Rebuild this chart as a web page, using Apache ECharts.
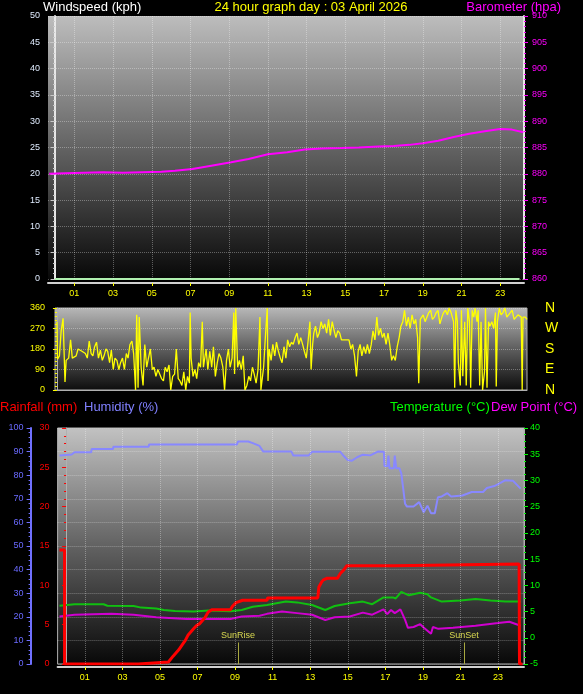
<!DOCTYPE html>
<html><head><meta charset="utf-8">
<script src="https://cdn.jsdelivr.net/npm/echarts@6/dist/echarts.min.js"></script>
<style>html,body{margin:0;padding:0;background:#000}#c{width:583px;height:694px}</style>
</head><body><div id="c"></div><script>
// ---------- data ----------
const hourTicks = [1,3,5,7,9,11,13,15,17,19,21,23];
const dirLetters = ['N','E','S','W','N'];

const windHours = [0,1,2,3,4,5,6,7,8,9,10,11,12,13,14,15,16,17,18,19,20,21,22,23,24];
const windSpeed = [0,0,0,0,0,0,0,0,0,0,0,0,0,0,0,0,0,0,0,0,0,0,0,0,0];

const baroHours = [-0.3,0.5,1.5,2.5,3.5,4.5,5.5,6.2,7.1,8.0,9.1,10.0,11.0,12.0,12.9,13.8,14.8,15.7,16.7,17.5,18.3,19.0,19.8,20.6,21.4,22.2,23.0,23.6,24.2];
const baroValues = [880.0,880.1,880.2,880.3,880.2,880.3,880.4,880.6,880.9,881.5,882.2,882.8,883.7,884.1,884.6,884.8,884.9,885.0,885.2,885.3,885.5,885.8,886.3,887.0,887.6,888.1,888.5,888.4,887.9];

const windDir = [[0.0,300],[0.03,135],[0.13,150],[0.22,260],[0.32,315],[0.42,35],[0.48,130],[0.61,140],[0.71,220],[0.80,140],[0.90,135],[1.0,150],[1.10,180],[1.3,170],[1.48,160],[1.58,140],[1.68,215],[1.78,160],[1.87,150],[1.96,190],[2.06,210],[2.16,140],[2.26,175],[2.36,130],[2.45,150],[2.55,180],[2.64,170],[2.74,120],[2.83,175],[2.93,90],[3.02,140],[3.12,130],[3.22,90],[3.31,120],[3.41,140],[3.51,90],[3.61,160],[3.70,140],[3.80,200],[3.90,215],[3.99,160],[4.09,0],[4.15,330],[4.22,10],[4.28,320],[4.38,100],[4.48,20],[4.57,200],[4.67,100],[4.76,140],[4.86,180],[4.96,90],[5.05,100],[5.15,60],[5.25,90],[5.34,90],[5.44,50],[5.54,40],[5.63,100],[5.73,80],[5.83,110],[5.92,0],[6.02,60],[6.12,70],[6.21,180],[6.31,50],[6.40,40],[6.50,20],[6.60,80],[6.70,0],[6.79,60],[6.89,30],[6.93,340],[6.98,140],[7.08,60],[7.18,90],[7.27,50],[7.37,120],[7.47,100],[7.56,300],[7.62,100],[7.76,180],[7.85,90],[7.95,170],[8.05,100],[8.14,190],[8.24,60],[8.34,120],[8.43,160],[8.53,140],[8.63,100],[8.72,0],[8.82,130],[8.92,180],[9.01,100],[9.11,140],[9.20,340],[9.24,70],[9.30,360],[9.40,100],[9.49,130],[9.59,90],[9.69,150],[9.78,0],[9.88,20],[9.98,60],[10.07,40],[10.17,100],[10.26,70],[10.36,30],[10.46,90],[10.56,320],[10.61,0],[10.75,100],[10.84,230],[10.94,360],[10.98,40],[11.04,180],[11.14,130],[11.23,200],[11.33,150],[11.42,210],[11.52,170],[11.62,140],[11.71,120],[11.81,190],[11.91,140],[12.00,220],[12.10,190],[12.20,210],[12.29,200],[12.39,230],[12.49,250],[12.58,200],[12.68,230],[12.78,200],[12.87,170],[12.97,140],[13.07,220],[13.16,300],[13.22,90],[13.3,200],[13.36,250],[13.45,280],[13.55,230],[13.64,250],[13.74,300],[13.84,270],[13.93,290],[14.03,250],[14.13,310],[14.22,240],[14.32,300],[14.42,260],[14.51,230],[14.61,260],[14.71,250],[14.80,220],[14.9,225],[15.00,220],[15.1,215],[15.19,220],[15.29,180],[15.38,200],[15.48,150],[15.58,60],[15.67,170],[15.77,200],[15.86,150],[15.96,190],[16.06,160],[16.15,200],[16.25,160],[16.35,200],[16.44,260],[16.54,220],[16.64,320],[16.73,240],[16.83,270],[16.93,230],[17.02,250],[17.12,200],[17.22,250],[17.31,200],[17.41,130],[17.50,150],[17.60,130],[17.70,190],[17.80,230],[17.89,280],[17.99,300],[18.08,350],[18.18,280],[18.28,320],[18.37,270],[18.47,330],[18.57,290],[18.66,310],[18.76,230],[18.82,30],[18.90,310],[19.05,330],[19.15,300],[19.24,300],[19.34,340],[19.44,350],[19.53,310],[19.63,320],[19.73,340],[19.82,350],[19.92,290],[20.02,320],[20.11,340],[20.21,350],[20.31,330],[20.40,360],[20.50,340],[20.63,300],[20.69,10],[20.75,350],[20.83,300],[20.88,120],[20.98,20],[21.04,350],[21.11,60],[21.21,300],[21.29,20],[21.37,360],[21.46,300],[21.52,10],[21.60,350],[21.68,320],[21.75,360],[21.85,300],[21.91,350],[21.99,20],[22.06,300],[22.14,0],[22.24,80],[22.29,360],[22.37,10],[22.45,300],[22.52,280],[22.62,300],[22.72,270],[22.81,340],[22.85,15],[22.91,300],[23.01,360],[23.10,330],[23.2,340],[23.30,360],[23.4,320],[23.49,330],[23.58,340],[23.68,350],[23.78,310],[23.88,320],[23.98,330],[24.07,330],[24.15,320],[24.20,0],[24.24,320],[24.36,320],[24.45,310]];

const rainfall = [[-0.35,14.5],[-0.08,14.5],[-0.08,0],[3.85,0],[3.85,0.25],[5.45,0.25],[5.55,0.5],[5.7,1.0],[5.85,1.4],[6.0,1.8],[6.2,2.5],[6.35,3.0],[6.5,3.7],[6.65,4.1],[6.8,4.5],[6.95,4.9],[7.1,5.1],[7.25,5.5],[7.4,5.9],[7.57,6.6],[7.76,6.9],[8.75,6.9],[8.85,7.3],[9.05,7.8],[9.4,8.1],[10.7,8.1],[10.73,8.4],[13.4,8.4],[13.46,9.8],[13.6,10.4],[13.7,10.7],[13.9,10.9],[14.45,10.9],[14.6,11.5],[14.8,12.0],[14.95,12.5],[17.45,12.5],[17.46,12.7],[24.12,12.7],[24.14,0],[24.3,0]];

const humidity = [[-0.35,88.3],[0.0,88.6],[0.3,88.8],[0.45,89.7],[1.34,89.7],[1.36,91.1],[2.5,91.1],[2.52,92.1],[4.4,92.1],[4.42,93.0],[9.1,93.0],[9.15,94.3],[9.7,94.3],[9.94,93.6],[10.3,92.4],[10.5,90.0],[12.0,90.0],[12.1,88.3],[12.9,88.3],[13.1,89.9],[14.6,89.9],[14.8,88.0],[15.0,86.4],[15.2,86.1],[15.5,87.6],[15.8,88.7],[16.2,88.4],[16.6,90.0],[16.92,89.9],[16.95,83.9],[17.12,83.9],[17.16,88.3],[17.22,82.9],[17.45,82.9],[17.5,88.3],[17.58,82.9],[17.75,82.9],[17.85,80.7],[18.05,67.9],[18.15,66.7],[18.5,66.7],[18.8,68.6],[19.04,64.3],[19.24,67.1],[19.43,63.9],[19.63,63.9],[19.8,70.7],[20.0,71.0],[20.3,72.4],[20.5,71.0],[21.1,71.4],[21.6,72.9],[22.2,72.9],[22.4,74.6],[22.8,75.4],[23.4,77.9],[23.8,77.6],[24.2,74.3]];

const temperature = [[-0.35,6.1],[0.45,6.4],[2.0,6.4],[2.2,6.1],[3.6,6.06],[4.0,5.75],[4.8,5.6],[5.2,5.3],[5.8,5.1],[6.8,5.0],[7.6,5.2],[8.75,5.06],[9.35,5.3],[9.94,5.9],[10.7,6.25],[11.7,6.9],[12.3,6.75],[13.1,6.25],[13.8,5.3],[14.3,6.06],[15.1,6.6],[15.8,6.9],[16.3,6.4],[16.9,7.7],[17.4,7.7],[17.55,7.5],[17.85,8.75],[18.25,8.1],[18.85,8.6],[19.24,8.3],[19.43,7.7],[20.0,6.9],[21.0,7.1],[21.8,7.4],[22.6,7.1],[23.4,6.9],[24.2,6.9]];

const dewPoint = [[-0.35,4.06],[0.45,4.4],[2.4,4.56],[3.6,4.4],[4.8,3.9],[6.4,3.6],[8.75,3.6],[9.35,4.06],[10.3,4.2],[10.7,4.56],[11.5,5.0],[12.3,4.7],[13.1,4.4],[13.8,3.4],[14.3,3.9],[15.1,4.06],[15.8,4.8],[16.3,4.4],[16.9,5.4],[17.1,4.5],[17.3,5.3],[17.5,4.7],[17.8,5.4],[18.05,3.4],[18.2,1.9],[18.5,2.06],[18.85,2.6],[19.05,1.9],[19.43,0.75],[19.53,2.06],[19.82,1.7],[20.6,1.9],[21.8,2.3],[23.0,2.8],[23.6,3.06],[24.2,2.3]];

const sunRiseHour = 9.15, sunSetHour = 21.18;

// ---------- chart ----------
const FONT = '"Liberation Sans", Arial, sans-serif';
const chart = echarts.init(document.getElementById('c'));
const grad = (a,b,c) => new echarts.graphic.LinearGradient(0,0,0,1,[{offset:0,color:a},{offset:0.5,color:b},{offset:1,color:c}]);
const pad = v => (v<10?'0':'')+v;
const dotted = {color:'rgba(255,255,255,0.32)', type:'dotted', width:1};

function xAx(grid, min, max, labels, offset){
  return {type:'value', gridIndex:grid, min, max, offset,
    axisLine:{show:true, onZero:false, lineStyle:{color:'#d0d0d0', width:2}},
    axisTick:{show:labels, customValues:hourTicks, length:3, lineStyle:{color:'#ffff00'}},
    axisLabel:{show:labels, customValues:hourTicks, formatter:v=>pad(v), color:'#ffff00', fontSize:9, fontFamily:FONT, margin:6},
    splitLine:{show:false}};
}
function yAx(o){
  return Object.assign({type:'value', axisLine:{show:true}, splitLine:{show:false}}, o);
}
function vLines(xi, yi){
  return {type:'line', xAxisIndex:xi, yAxisIndex:yi, data:[], silent:true,
    markLine:{silent:true, symbol:'none', label:{show:false}, lineStyle:dotted, animation:false,
      data:hourTicks.map(h=>({xAxis:h}))}};
}
function sunMark(h, txt){
  return [{coord:[h,-5]},{coord:[h,-0.9], label:{show:true, formatter:txt}}];
}

chart.setOption({
  backgroundColor:'#000',
  animation:false,
  graphic:[
    {type:'text', x:43, y:1, style:{text:'Windspeed (kph)', fill:'#ffffff', font:'13px '+FONT}},
    {type:'text', x:311, y:1, style:{text:'24 hour graph day : 03 April 2026', fill:'#ffff00', font:'13px '+FONT, textAlign:'center'}},
    {type:'text', x:561, y:1, style:{text:'Barometer (hpa)', fill:'#ff00ff', font:'13px '+FONT, textAlign:'right'}},
    {type:'text', x:0, y:401, style:{text:'Rainfall (mm)', fill:'#ff0000', font:'13px '+FONT}},
    {type:'text', x:84, y:401, style:{text:'Humidity (%)', fill:'#8080ff', font:'13px '+FONT}},
    {type:'text', x:390, y:401, style:{text:'Temperature (°C)', fill:'#00ff00', font:'13px '+FONT}},
    {type:'text', x:491, y:401, style:{text:'Dew Point (°C)', fill:'#ff00ff', font:'13px '+FONT}}
  ],
  grid:[
    {left:48, top:16, width:476, height:263, show:true, backgroundColor:grad('#bdbdbd','#636363','#080808'), borderWidth:0},
    {left:55, top:308, width:472, height:82, show:true, backgroundColor:grad('#b8b8b8','#5e5e5e','#0c0c0c'), borderColor:'#b0b0b0', borderWidth:1},
    {left:57.6, top:428, width:466.4, height:236, show:true, backgroundColor:grad('#c2c2c2','#626262','#080808'), borderColor:'#b0b0b0', borderWidth:1}
  ],
  xAxis:[
    xAx(0,-0.36,24.23,true,4),
    Object.assign(xAx(1,-0.1,24.45,false,0),{axisLine:{show:true,lineStyle:{color:'#b0b0b0',width:1}}}),
    xAx(2,-0.45,24.38,true,3)
  ],
  yAxis:[
    yAx({gridIndex:0, position:'left', min:0, max:50, interval:5,
      axisLine:{show:true, lineStyle:{color:'#e8e8e8', width:2}},
      axisTick:{show:true, length:4, lineStyle:{color:'#c8c8c8'}},
      minorTick:{show:true, splitNumber:5, length:2, lineStyle:{color:'#c8c8c8'}},
      axisLabel:{color:'#e0ecff', fontSize:9, fontFamily:FONT, margin:8},
      splitLine:{show:true, lineStyle:dotted}}),
    yAx({gridIndex:0, position:'right', min:860, max:910, interval:5,
      axisLine:{show:true, lineStyle:{color:'#e8e8e8', width:2}},
      axisTick:{show:true, length:4, lineStyle:{color:'#ff00ff'}},
      minorTick:{show:true, splitNumber:5, length:2, lineStyle:{color:'#ff00ff'}},
      axisLabel:{color:'#ff00ff', fontSize:9, fontFamily:FONT, margin:8}}),
    yAx({gridIndex:1, position:'left', min:0, max:360, interval:90,
      axisLine:{show:true, lineStyle:{color:'#b0b0b0', width:1}},
      axisTick:{show:true, length:4, lineStyle:{color:'#ffff00'}},
      minorTick:{show:true, splitNumber:5, length:2, lineStyle:{color:'#ffff00'}},
      axisLabel:{color:'#ffff00', fontSize:9, fontFamily:FONT, margin:10},
      splitLine:{show:true, lineStyle:dotted}}),
    yAx({gridIndex:1, position:'right', min:0, max:360, interval:90,
      axisLine:{show:false}, axisTick:{show:false},
      axisLabel:{color:'#ffff00', fontSize:14, fontFamily:FONT, margin:18, formatter:v=>dirLetters[Math.round(v/90)]}}),
    yAx({gridIndex:2, position:'left', min:0, max:30, interval:5,
      axisLine:{show:true, lineStyle:{color:'#b0b0b0', width:1}},
      axisTick:{show:true, length:4, lineStyle:{color:'#ff0000'}},
      minorTick:{show:true, splitNumber:5, length:2, lineStyle:{color:'#ff0000'}},
      axisLabel:{color:'#ff0000', fontSize:9, fontFamily:FONT, margin:8}}),
    yAx({gridIndex:2, position:'left', offset:27, min:0, max:100, interval:10,
      axisLine:{show:true, lineStyle:{color:'#7070ff', width:2}},
      axisTick:{show:true, length:4, lineStyle:{color:'#7070ff'}},
      minorTick:{show:true, splitNumber:5, length:2, lineStyle:{color:'#7070ff'}},
      axisLabel:{color:'#6a6aff', fontSize:9, fontFamily:FONT, margin:7},
      splitLine:{show:true, lineStyle:dotted}}),
    yAx({gridIndex:2, position:'right', min:-5, max:40, interval:5,
      axisLine:{show:true, lineStyle:{color:'#b0b0b0', width:1}},
      axisTick:{show:true, length:4, lineStyle:{color:'#00ff00'}},
      minorTick:{show:true, splitNumber:4, length:2, lineStyle:{color:'#00ff00'}},
      axisLabel:{color:'#00ff00', fontSize:9, fontFamily:FONT, margin:6}})
  ],
  series:[
    vLines(0,0),
    vLines(2,4),
    {type:'line', name:'Windspeed', xAxisIndex:0, yAxisIndex:0, showSymbol:false,
      data:windHours.map((h,i)=>[h,windSpeed[i]]), lineStyle:{color:'#b0f0b0', width:2}, itemStyle:{color:'#b0f0b0'}},
    {type:'line', name:'Barometer', xAxisIndex:0, yAxisIndex:1, showSymbol:false,
      data:baroHours.map((h,i)=>[h,baroValues[i]]), lineStyle:{color:'#ff00ff', width:2}, itemStyle:{color:'#ff00ff'}},
    {type:'line', name:'Wind direction', xAxisIndex:1, yAxisIndex:2, showSymbol:false,
      data:windDir, lineStyle:{color:'#ffff00', width:1.3}, itemStyle:{color:'#ffff00'}},
    {type:'line', name:'Humidity', xAxisIndex:2, yAxisIndex:5, showSymbol:false,
      data:humidity, lineStyle:{color:'#8888ff', width:2}, itemStyle:{color:'#8888ff'}},
    {type:'line', name:'Temperature', xAxisIndex:2, yAxisIndex:6, showSymbol:false,
      data:temperature, lineStyle:{color:'#10c010', width:2}, itemStyle:{color:'#10c010'},
      markLine:{silent:true, symbol:'none', animation:false,
        lineStyle:{color:'#a8a840', type:'solid', width:1},
        label:{show:true, position:'end', color:'#d8d850', fontSize:9, fontFamily:FONT, distance:2},
        data:[sunMark(sunRiseHour,'SunRise'), sunMark(sunSetHour,'SunSet')]}},
    {type:'line', name:'Dew Point', xAxisIndex:2, yAxisIndex:6, showSymbol:false,
      data:dewPoint, lineStyle:{color:'#d000d0', width:2}, itemStyle:{color:'#d000d0'}},
    {type:'line', name:'Rainfall', xAxisIndex:2, yAxisIndex:4, showSymbol:false,
      data:rainfall, lineStyle:{color:'#ff0000', width:3}, itemStyle:{color:'#ff0000'}}
  ]
});
</script></body></html>
